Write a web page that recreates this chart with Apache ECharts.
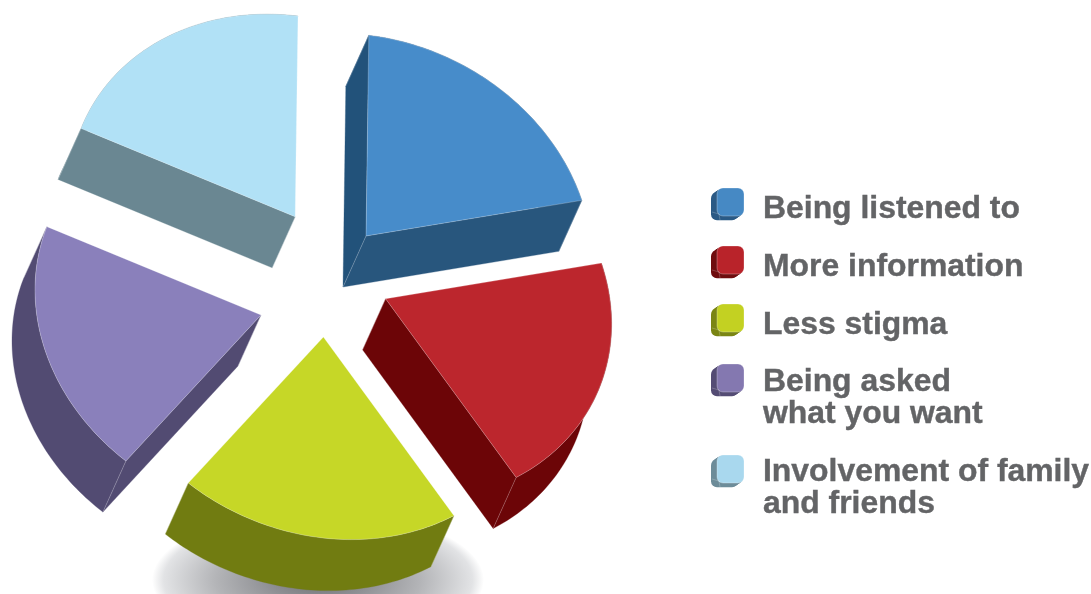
<!DOCTYPE html>
<html>
<head>
<meta charset="utf-8">
<style>html,body{margin:0;padding:0;background:#fff}#c{width:1091px;height:594px}</style>
<script src="https://cdn.jsdelivr.net/npm/echarts@6/dist/echarts.min.js"></script>
</head>
<body>
<div id="c"></div>
<script>
// Share of answers per category
const categories = ['Being listened to', 'More information', 'Less stigma', 'Being asked\nwhat you want', 'Involvement of family\nand friends'];
const shares = [20, 20, 20, 20, 20];

// Face colours per slice
const topColors = ['#478cca', '#bc262d', '#c6d727', '#8a80bb', '#b1e1f6'];
const wallColors = ['#28567d', '#6c0507', '#717c11', '#524b72', '#6a8792'];
const rearWallColors = ['#22527a', '#6c0507', '#717c11', '#524b72', '#6a8792'];
const swatchTopColors = ['#4689c4', '#b9232a', '#c3d122', '#8478b0', '#a9d8ee'];
const swatchWallColors = ['#2b5a85', '#6f0c0e', '#7a8514', '#544c74', '#6d8c99'];

// Pie tilt: maps a point on the unit circle to screen offsets
const tilt = { xc: 226, xs: 2.8, yc: 27.7, ys: -200.7 };
const depth = [-23, 51];
const centre = [326.2, 280.6];
// How far each slice is pulled out of the pie
const explode = [[39.8, -44.6], [59.4, 18.2], [-2.8, 56.4], [-65.2, 34.4], [-31, -63.8]];

// Legend layout: top of each swatch and centre of each label's first line
const swatchTops = [188, 246, 304, 364, 455];
const labelCentres = [207, 265, 323, 380, 470];

const total = shares.reduce((a, b) => a + b, 0);

function project(angle) {
  const c = Math.cos(angle), s = Math.sin(angle);
  return [tilt.xc * c + tilt.xs * s, tilt.yc * c + tilt.ys * s];
}
const shift = p => [p[0] + depth[0], p[1] + depth[1]];

function renderSlice(params, api) {
  const i = params.dataIndex;
  let before = 0;
  for (let k = 0; k < i; k++) before += shares[k];
  const a0 = Math.PI / 2 - 2 * Math.PI * before / total;
  const a1 = a0 - 2 * Math.PI * api.value(0) / total;
  const apex = [centre[0] + explode[i][0], centre[1] + explode[i][1]];

  const arc = [];
  const steps = 64;
  for (let s = 0; s <= steps; s++) {
    const p = project(a0 + (a1 - a0) * s / steps);
    arc.push([apex[0] + p[0], apex[1] + p[1]]);
  }
  const start = arc[0], end = arc[steps];
  const children = [];
  const poly = (points, fill) => children.push({
    type: 'polygon', shape: { points }, style: { fill, stroke: fill, lineWidth: 0.3 }
  });

  // Curved outer wall first, then the two straight walls that face the viewer
  poly(arc.concat(arc.map(shift).reverse()), wallColors[i]);
  const faces = (p, q) => (q[0] - p[0]) * depth[1] - (q[1] - p[1]) * depth[0] < 0;
  if (faces(apex, start)) poly([apex, start, shift(start), shift(apex)], rearWallColors[i]);
  if (faces(end, apex)) poly([end, apex, shift(apex), shift(end)], wallColors[i]);

  // Thin light creases down the corners
  [apex, start, end].forEach(p => children.push({
    type: 'line',
    shape: { x1: p[0], y1: p[1], x2: p[0] + depth[0], y2: p[1] + depth[1] },
    style: { stroke: 'rgba(255,255,255,0.32)', lineWidth: 0.7 }
  }));

  // Top face with a faint light rim
  children.push({
    type: 'polygon',
    shape: { points: [apex].concat(arc) },
    style: { fill: topColors[i], stroke: 'rgba(255,255,255,0.35)', lineWidth: 0.7 }
  });
  return { type: 'group', children };
}

// Legend swatches: small rounded blocks with a darker extruded side
function swatch(i) {
  const x = 717, y = swatchTops[i], w = 27, h = 28, r = 6;
  const layers = [];
  for (let k = 6; k >= 1; k--) {
    layers.push({
      type: 'rect',
      shape: { x: x - k, y: y + k * 0.7, width: w, height: h, r },
      style: { fill: swatchWallColors[i] }
    });
  }
  layers.push({
    type: 'rect',
    shape: { x, y, width: w, height: h, r },
    style: { fill: swatchTopColors[i], stroke: 'rgba(255,255,255,0.35)', lineWidth: 0.8 }
  });
  // Bevel creases at the lower left corner
  [[x - 5, y + 24], [x + 3, y + 32]].forEach(end => layers.push({
    type: 'line',
    shape: { x1: x + 2, y1: y + 26, x2: end[0], y2: end[1] },
    style: { stroke: 'rgba(255,255,255,0.35)', lineWidth: 0.6 }
  }));
  return layers;
}

function label(i) {
  return {
    type: 'text',
    x: 763,
    y: labelCentres[i] - 14,
    style: {
      text: categories[i],
      font: 'bold 31.9px "Liberation Sans", Arial, sans-serif',
      lineHeight: 32,
      fill: '#636466',
      stroke: '#636466',
      lineWidth: 0.4,
      verticalAlign: 'top',
      align: 'left'
    }
  };
}

// Soft ground shadow below the front slice
const groundShadow = {
  type: 'circle',
  x: 318, y: 580, scaleY: 0.42,
  shape: { cx: 0, cy: 0, r: 166 },
  style: {
    fill: new echarts.graphic.RadialGradient(0.5, 0.5, 0.5, [
      { offset: 0, color: '#717276' },
      { offset: 0.3, color: '#8f9094' },
      { offset: 0.62, color: '#b4b5b8' },
      { offset: 0.93, color: '#e2e3e5' },
      { offset: 1, color: '#ffffff' }
    ])
  }
};

const graphicElements = [groundShadow];
categories.forEach((_, i) => {
  graphicElements.push(...swatch(i));
  graphicElements.push(label(i));
});

const chart = echarts.init(document.getElementById('c'), null, { renderer: 'canvas' });
chart.setOption({
  animation: false,
  backgroundColor: '#ffffff',
  graphic: { elements: graphicElements },
  series: [{
    type: 'custom',
    coordinateSystem: 'none',
    silent: true,
    z: 5,
    renderItem: renderSlice,
    data: shares.map((v, i) => ({ name: categories[i], value: [v] }))
  }]
});
</script>
</body>
</html>
